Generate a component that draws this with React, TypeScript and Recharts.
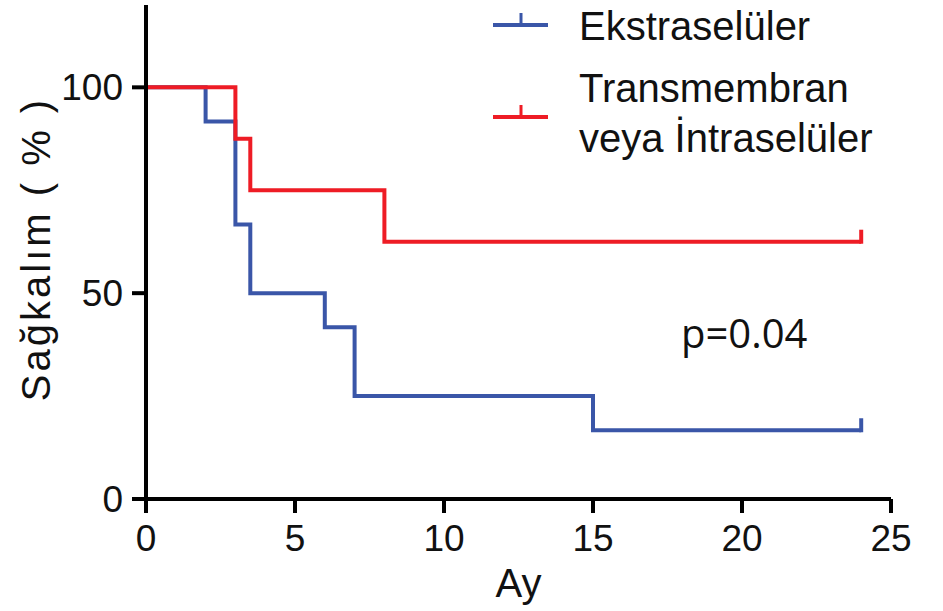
import React from "react";
import {
  LineChart,
  Line,
  XAxis,
  YAxis,
  Legend,
  Label,
} from "recharts";

// Kaplan-Meier steps (months, % survival)
const ekstraTimes = [0, 2, 3, 3.5, 6, 7, 15, 24];
const ekstraSurv = [100, 91.7, 66.7, 50, 41.7, 25, 16.7, 16.7];
const transTimes = [0, 3, 3.5, 8, 24];
const transSurv = [100, 87.5, 75, 62.5, 62.5];

const xTicks = [0, 5, 10, 15, 20, 25];
const yTicks = [0, 50, 100];

const legendNames = [["Ekstraselüler"], ["Transmembran", "veya İntraselüler"]];

const BLUE = "#3a56a8";
const RED = "#ee1c25";
const FONT = "'Liberation Sans', Arial, sans-serif";

const ekstraData = ekstraTimes.map((t, i) => ({ t, s: ekstraSurv[i] }));
const transData = transTimes.map((t, i) => ({ t, s: transSurv[i] }));

const censorDot = (len: number, color: string) => (props: any) => {
  const { cx, cy, index, key } = props;
  if (index !== len - 1) return <g key={key ?? index} />;
  return (
    <line
      key={key ?? index}
      x1={cx}
      x2={cx}
      y1={cy + 2}
      y2={cy - 12}
      stroke={color}
      strokeWidth={4}
    />
  );
};

// legend rows: swatch y and text baselines
const legendRows = [
  { color: BLUE, lineY: 25, baselines: [40] },
  { color: RED, lineY: 117, baselines: [102, 152] },
];

function KMLegend() {
  return (
    <svg
      width={943}
      height={170}
      style={{ position: "absolute", left: 0, top: 0, overflow: "visible" }}
    >
      {legendRows.map((r, i) => (
        <g key={i}>
          <line x1={493} x2={548} y1={r.lineY} y2={r.lineY} stroke={r.color} strokeWidth={4} />
          <line x1={521} x2={521} y1={r.lineY - 12} y2={r.lineY} stroke={r.color} strokeWidth={3} />
          {legendNames[i].map((txt, j) => (
            <text
              key={txt}
              x={579}
              y={r.baselines[j]}
              fontSize={40}
              fontFamily={FONT}
              fill="#111"
            >
              {txt}
            </text>
          ))}
        </g>
      ))}
    </svg>
  );
}

export default function App() {
  return (
    <div style={{ position: "absolute", left: 0, top: 0, width: 943, height: 611, background: "#fff" }}>
      <LineChart
        width={943}
        height={611}
        margin={{ top: 5, right: 52, bottom: 0, left: 0 }}
      >
        <XAxis
          type="number"
          dataKey="t"
          domain={[0, 25]}
          ticks={xTicks}
          allowDataOverflow
          stroke="#000"
          strokeWidth={4}
          tickSize={14}
          tickMargin={12}
          height={112}
          tick={{ fill: "#111", fontSize: 37, fontFamily: FONT }}
        >
          <Label
            value="Ay"
            position="insideBottom"
            offset={14}
            style={{ fill: "#111", fontSize: 40, fontFamily: FONT }}
          />
        </XAxis>
        <YAxis
          type="number"
          domain={[0, 120]}
          ticks={yTicks}
          width={146}
          stroke="#000"
          strokeWidth={4}
          tickSize={14}
          tickMargin={9}
          tick={{ fill: "#111", fontSize: 37, fontFamily: FONT }}
        >
          <Label
            content={(p: any) => {
              const vb = p.viewBox || {};
              const cy = (vb.y ?? 5) + (vb.height ?? 494) / 2;
              return (
                <text
                  x={0}
                  y={0}
                  transform={`translate(50, ${cy - 3}) rotate(-90)`}
                  textAnchor="middle"
                  fill="#111"
                  fontSize={40}
                  letterSpacing={3}
                  fontFamily={FONT}
                >
                  Sağkalım ( % )
                </text>
              );
            }}
          />
        </YAxis>
        <Legend content={() => <KMLegend />} wrapperStyle={{ left: 0, top: 0, width: 943, height: 0 }} />
        <Line
          data={ekstraData}
          dataKey="s"
          type="stepAfter"
          stroke={BLUE}
          strokeWidth={4}
          dot={censorDot(ekstraData.length, BLUE)}
          activeDot={false}
          isAnimationActive={false}
        />
        <Line
          data={transData}
          dataKey="s"
          type="stepAfter"
          stroke={RED}
          strokeWidth={4}
          dot={censorDot(transData.length, RED)}
          activeDot={false}
          isAnimationActive={false}
        />
      </LineChart>
      <div
        style={{
          position: "absolute",
          left: 681,
          top: 305,
          lineHeight: "normal",
          fontFamily: "'Open Sans', 'Noto Sans', sans-serif",
          fontSize: 40,
          color: "#111",
        }}
      >
        p=0.04
      </div>
    </div>
  );
}
